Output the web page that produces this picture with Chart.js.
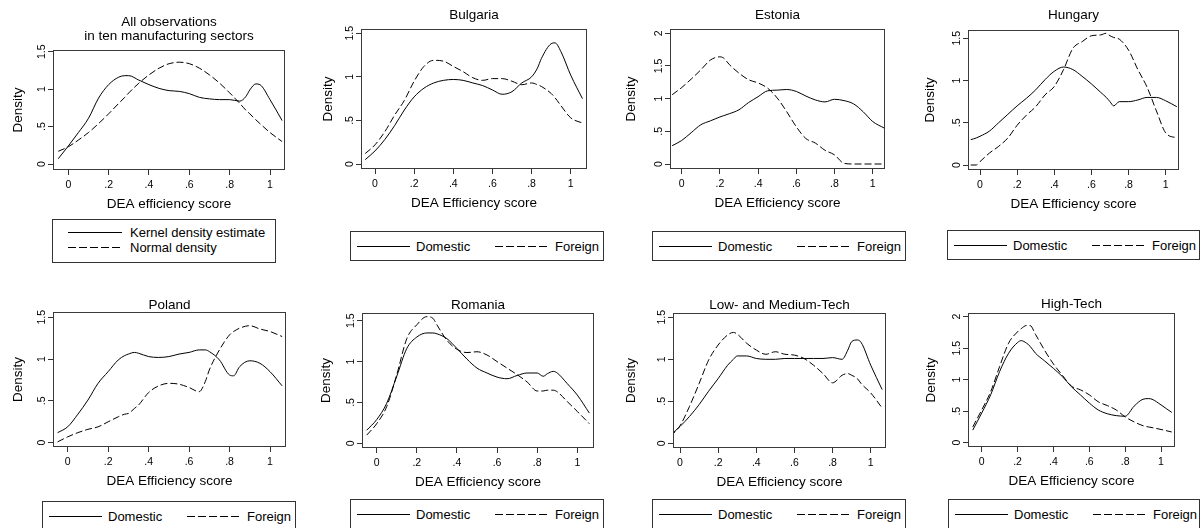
<!DOCTYPE html>
<html>
<head>
<meta charset="utf-8">
<script src="https://cdn.jsdelivr.net/npm/chart.js@4.4.1/dist/chart.umd.min.js"></script>
<style>
html,body{margin:0;padding:0;background:#fff;}
body{width:1202px;height:528px;position:relative;overflow:hidden;font-family:"Liberation Sans",Arial,Helvetica,sans-serif;}
canvas{position:absolute;}
.legend{position:absolute;border:1px solid #333;box-sizing:border-box;background:#fff;font-size:13px;color:#000;}
.ltext{position:absolute;white-space:nowrap;line-height:15px;height:15px;}
.sample{position:absolute;height:1px;background:#000;}
.sample.dash{background:repeating-linear-gradient(to right,#000 0 8px,transparent 8px 11px);}
</style>
</head>
<body>
<script>
// ---------- tick labels ----------
const xTickValues = [0, 0.2, 0.4, 0.6, 0.8, 1];
const xTickLabels = ['0', '.2', '.4', '.6', '.8', '1'];
const yTickValuesA = [0, 0.5, 1, 1.5];
const yTickLabelsA = ['0', '.5', '1', '1.5'];
const yTickValuesB = [0, 0.5, 1, 1.5, 2];
const yTickLabelsB = ['0', '.5', '1', '1.5', '2'];

// ---------- data ----------
const allX = [-0.05,0,0.05,0.1,0.15,0.2,0.25,0.28,0.3,0.35,0.4,0.45,0.5,0.55,0.6,0.65,0.7,0.75,0.8,0.85,0.88,0.9,0.93,0.95,1,1.06];
const allKernel = [0.07,0.24,0.42,0.61,0.88,1.06,1.16,1.18,1.18,1.12,1.06,1.01,0.98,0.97,0.94,0.89,0.87,0.86,0.86,0.84,0.90,0.99,1.07,1.06,0.86,0.58];
const allNormal = [0.17,0.23,0.32,0.42,0.54,0.67,0.81,0.89,0.95,1.08,1.19,1.28,1.34,1.36,1.34,1.28,1.19,1.08,0.95,0.81,0.72,0.67,0.59,0.54,0.42,0.30];

const bulgariaX = [-0.05,0,0.05,0.1,0.15,0.2,0.25,0.3,0.35,0.4,0.45,0.5,0.55,0.6,0.65,0.7,0.75,0.8,0.83,0.85,0.9,0.92,0.95,1,1.06];
const bulgariaDomestic = [0.05,0.15,0.28,0.44,0.62,0.77,0.87,0.93,0.96,0.97,0.96,0.93,0.90,0.85,0.80,0.83,0.93,1.00,1.10,1.21,1.38,1.39,1.29,1.02,0.75];
const bulgariaForeign = [0.12,0.22,0.37,0.56,0.73,0.95,1.12,1.19,1.18,1.12,1.06,0.99,0.96,0.98,0.98,0.95,0.91,0.93,0.91,0.89,0.81,0.76,0.67,0.53,0.47];

const estoniaX = [-0.05,0,0.05,0.1,0.15,0.2,0.22,0.25,0.3,0.35,0.4,0.45,0.5,0.55,0.6,0.65,0.7,0.75,0.8,0.85,0.9,0.95,1,1.06];
const estoniaDomestic = [0.28,0.36,0.48,0.60,0.66,0.72,0.74,0.77,0.83,0.94,1.03,1.12,1.13,1.14,1.11,1.04,0.98,0.95,0.99,0.97,0.92,0.80,0.65,0.55];
const estoniaForeign = [1.06,1.17,1.30,1.44,1.59,1.64,1.62,1.52,1.39,1.29,1.24,1.16,1.01,0.80,0.57,0.39,0.32,0.21,0.14,0.01,0,0,0,0];

const hungaryX = [-0.05,-0.02,0,0.05,0.1,0.15,0.2,0.25,0.3,0.35,0.4,0.45,0.5,0.55,0.6,0.65,0.68,0.7,0.72,0.75,0.8,0.85,0.9,0.95,1,1.06];
const hungaryDomestic = [0.30,0.32,0.34,0.40,0.50,0.60,0.70,0.79,0.89,1.01,1.11,1.16,1.13,1.05,0.96,0.86,0.80,0.75,0.70,0.75,0.75,0.77,0.80,0.80,0.76,0.69];
const hungaryForeign = [0,0,0.04,0.14,0.22,0.32,0.47,0.59,0.69,0.83,0.93,1.13,1.38,1.46,1.53,1.54,1.56,1.53,1.51,1.49,1.36,1.13,0.92,0.64,0.38,0.32];

const polandX = [-0.05,0,0.05,0.1,0.15,0.2,0.25,0.28,0.3,0.33,0.35,0.4,0.45,0.5,0.55,0.6,0.65,0.68,0.7,0.75,0.8,0.82,0.85,0.9,0.95,1,1.06];
const polandDomestic = [0.12,0.19,0.34,0.51,0.71,0.85,0.99,1.04,1.06,1.08,1.07,1.03,1.02,1.03,1.06,1.08,1.11,1.11,1.09,0.99,0.81,0.80,0.91,0.98,0.95,0.85,0.68];
const polandForeign = [0.01,0.07,0.12,0.16,0.19,0.25,0.31,0.34,0.35,0.41,0.45,0.60,0.68,0.71,0.70,0.66,0.61,0.73,0.87,1.11,1.29,1.33,1.37,1.40,1.36,1.33,1.27];

const romaniaX = [-0.05,0,0.05,0.1,0.15,0.2,0.25,0.28,0.3,0.35,0.4,0.45,0.5,0.55,0.6,0.65,0.7,0.75,0.8,0.83,0.85,0.88,0.9,0.95,1,1.06];
const romaniaDomestic = [0.16,0.29,0.49,0.82,1.16,1.30,1.35,1.35,1.34,1.28,1.16,1.03,0.92,0.86,0.81,0.79,0.83,0.86,0.86,0.82,0.85,0.88,0.86,0.73,0.59,0.37];
const romaniaForeign = [0.10,0.24,0.45,0.84,1.28,1.45,1.55,1.53,1.45,1.26,1.15,1.11,1.12,1.08,1.00,0.92,0.84,0.75,0.64,0.64,0.65,0.65,0.63,0.51,0.39,0.24];

const lowMedX = [-0.05,0,0.05,0.1,0.15,0.2,0.25,0.28,0.3,0.35,0.4,0.45,0.5,0.55,0.6,0.65,0.7,0.75,0.8,0.85,0.88,0.9,0.93,0.95,1,1.06];
const lowMedDomestic = [0.10,0.20,0.32,0.46,0.62,0.77,0.93,1.00,1.04,1.04,1.01,1.00,1.00,1.01,1.01,1.01,1.01,1.01,1.02,1.00,1.11,1.21,1.23,1.20,0.93,0.64];
const lowMedForeign = [0.08,0.21,0.44,0.71,0.99,1.17,1.29,1.32,1.30,1.19,1.11,1.06,1.09,1.06,1.05,1.01,0.93,0.83,0.72,0.81,0.83,0.81,0.77,0.71,0.60,0.42];

const highTechX = [-0.05,0,0.05,0.1,0.15,0.2,0.22,0.25,0.27,0.3,0.35,0.4,0.45,0.5,0.55,0.6,0.65,0.7,0.75,0.8,0.85,0.9,0.93,0.95,1,1.06];
const highTechDomestic = [0.20,0.47,0.76,1.13,1.42,1.59,1.62,1.58,1.53,1.42,1.30,1.18,1.05,0.89,0.76,0.63,0.52,0.46,0.43,0.42,0.58,0.69,0.70,0.69,0.60,0.48];
const highTechForeign = [0.25,0.52,0.81,1.21,1.58,1.76,1.81,1.86,1.86,1.72,1.47,1.25,1.07,0.90,0.84,0.76,0.65,0.59,0.52,0.41,0.33,0.27,0.25,0.24,0.21,0.17];

// ---------- panels (layout in page pixels) ----------
const panels = [
  {title:['All observations','in ten manufacturing sectors'], xTitle:'DEA efficiency score', x:allX,
   series:[{label:'Kernel density estimate', data:allKernel, dash:false},{label:'Normal density', data:allNormal, dash:true}],
   yv:yTickValuesA, yl:yTickLabelsA,
   g:{L:53,T:50,R:285,B:170,x0:68.3,x1:270,y0:164,yT:51.7,yTv:1.5,titleY:22.7,densX:18},
   leg:{left:52,top:219,w:224,h:44,vertical:true}},
  {title:'Bulgaria', xTitle:'DEA Efficiency score', x:bulgariaX,
   series:[{label:'Domestic', data:bulgariaDomestic, dash:false},{label:'Foreign', data:bulgariaForeign, dash:true}],
   yv:yTickValuesA, yl:yTickLabelsA,
   g:{L:361,T:29,R:587,B:169,x0:375,x1:570.7,y0:164,yT:33.3,yTv:1.5,titleY:15,densX:328.3},
   leg:{left:350,top:231,w:254,h:30}},
  {title:'Estonia', xTitle:'DEA Efficiency score', x:estoniaX,
   series:[{label:'Domestic', data:estoniaDomestic, dash:false},{label:'Foreign', data:estoniaForeign, dash:true}],
   yv:yTickValuesB, yl:yTickLabelsB,
   g:{L:670,T:29,R:885,B:169,x0:681.7,x1:872.7,y0:164,yT:33.3,yTv:2,titleY:15,densX:631.7},
   leg:{left:652,top:231,w:254,h:30}},
  {title:'Hungary', xTitle:'DEA Efficiency score', x:hungaryX,
   series:[{label:'Domestic', data:hungaryDomestic, dash:false},{label:'Foreign', data:hungaryForeign, dash:true}],
   yv:yTickValuesA, yl:yTickLabelsA,
   g:{L:968,T:30,R:1179,B:170,x0:980,x1:1165.7,y0:165,yT:38.3,yTv:1.5,titleY:15,densX:930},
   leg:{left:947,top:230,w:253,h:30}},
  {title:'Poland', xTitle:'DEA Efficiency score', x:polandX,
   series:[{label:'Domestic', data:polandDomestic, dash:false},{label:'Foreign', data:polandForeign, dash:true}],
   yv:yTickValuesA, yl:yTickLabelsA,
   g:{L:53,T:312,R:286,B:447,x0:67.7,x1:270,y0:442.7,yT:317.3,yTv:1.5,titleY:305,densX:18.3},
   leg:{left:42,top:501,w:254,h:30}},
  {title:'Romania', xTitle:'DEA Efficiency score', x:romaniaX,
   series:[{label:'Domestic', data:romaniaDomestic, dash:false},{label:'Foreign', data:romaniaForeign, dash:true}],
   yv:yTickValuesA, yl:yTickLabelsA,
   g:{L:362,T:313,R:594,B:448,x0:376.7,x1:577.3,y0:443.3,yT:320.7,yTv:1.5,titleY:305,densX:326.7},
   leg:{left:350,top:499,w:254,h:30}},
  {title:'Low- and Medium-Tech', xTitle:'DEA Efficiency score', x:lowMedX,
   series:[{label:'Domestic', data:lowMedDomestic, dash:false},{label:'Foreign', data:lowMedForeign, dash:true}],
   yv:yTickValuesA, yl:yTickLabelsA,
   g:{L:673,T:313,R:886,B:448,x0:680,x1:870.7,y0:443.3,yT:317.3,yTv:1.5,titleY:305,densX:631.7},
   leg:{left:652,top:499,w:254,h:30}},
  {title:'High-Tech', xTitle:'DEA Efficiency score', x:highTechX,
   series:[{label:'Domestic', data:highTechDomestic, dash:false},{label:'Foreign', data:highTechForeign, dash:true}],
   yv:yTickValuesB, yl:yTickLabelsB,
   g:{L:968,T:313,R:1175,B:447,x0:981.7,x1:1161,y0:442.7,yT:316.7,yTv:2,titleY:304,densX:931.7},
   leg:{left:948,top:499,w:252,h:30}}
];

const FONT = '"Liberation Sans", Arial, Helvetica, sans-serif';
Chart.defaults.font.family = FONT;
Chart.defaults.color = '#000';

const WY = 50, HX = 45, TL = 5;
const TITLE_SIZE = 13.5, AXIS_TITLE_SIZE = 13.5, TICK_SIZE = 10.5;
const AXIS_LH = AXIS_TITLE_SIZE * 1.2;

const mctx = document.createElement('canvas').getContext('2d');
mctx.font = TICK_SIZE + 'px ' + FONT;
const widestY = mctx.measureText('1.5').width;

const framePlugin = {
  id: 'frame',
  afterDatasetsDraw(chart) {
    const {ctx, chartArea: a} = chart;
    ctx.save();
    ctx.strokeStyle = '#3a3a3a';
    ctx.lineWidth = 1;
    ctx.strokeRect(Math.round(a.left) + 0.5, Math.round(a.top) + 0.5,
                   Math.round(a.right - a.left) - 1, Math.round(a.bottom - a.top) - 1);
    ctx.restore();
  }
};

function buildPanel(p) {
  const g = p.g;
  const lines = Array.isArray(p.title) ? p.title.length : 1;
  const lh = TITLE_SIZE;
  const top = Math.round(g.titleY - 4 - lh / 2);
  const padTop = g.titleY - lh / 2 - top;
  const padBottom = Math.max(0, g.T - top - padTop - lines * lh);
  const left = g.L - WY;
  const width = WY + (g.R - g.L) + WY;
  const height = (g.B - top) + HX;

  const canvas = document.createElement('canvas');
  canvas.width = width; canvas.height = height;
  canvas.style.left = left + 'px'; canvas.style.top = top + 'px';
  canvas.style.width = width + 'px'; canvas.style.height = height + 'px';
  document.body.appendChild(canvas);

  const xmin = (g.L - g.x0) / (g.x1 - g.x0), xmax = (g.R - g.x0) / (g.x1 - g.x0);
  const per = (g.y0 - g.yT) / g.yTv;
  const ymin = -(g.B - g.y0) / per, ymax = (g.y0 - g.T) / per;

  const datasets = p.series.map(s => ({
    label: s.label,
    data: p.x.map((xv, i) => ({x: xv, y: s.data[i]})),
    borderColor: '#000',
    borderWidth: 1,
    borderDash: s.dash ? [7, 3] : [],
    pointRadius: 0,
    fill: false,
    cubicInterpolationMode: 'monotone'
  }));

  new Chart(canvas, {
    type: 'line',
    data: {datasets},
    plugins: [framePlugin],
    options: {
      responsive: false, animation: false, events: [],
      layout: {padding: 0},
      plugins: {
        legend: {display: false}, tooltip: {enabled: false},
        title: {display: true, text: p.title, color: '#000',
                font: {size: TITLE_SIZE, weight: 'normal', lineHeight: 1},
                padding: {top: padTop, bottom: padBottom}}
      },
      scales: {
        x: {
          type: 'linear', position: 'bottom', min: xmin, max: xmax,
          afterBuildTicks: s => { s.ticks = xTickValues.map(v => ({value: v})); },
          afterFit: s => { s.height = HX; },
          ticks: {font: {size: TICK_SIZE}, color: '#000', padding: 3.8, maxRotation: 0, autoSkip: false,
                  callback: (v, i) => xTickLabels[i]},
          grid: {display: true, drawOnChartArea: false, drawTicks: true, tickLength: TL, color: '#333'},
          border: {display: false},
          title: {display: true, text: p.xTitle, color: '#000', font: {size: AXIS_TITLE_SIZE},
                  padding: {top: 0, bottom: HX - 34.5 - AXIS_LH / 2}}
        },
        y: {
          type: 'linear', position: 'left', min: ymin, max: ymax,
          afterBuildTicks: s => { s.ticks = p.yv.map(v => ({value: v})); },
          afterFit: s => { s.width = WY; },
          ticks: {font: {size: TICK_SIZE}, color: '#000', minRotation: 90, maxRotation: 90,
                  crossAlign: 'center', padding: 10.5 - TL - widestY / 2, autoSkip: false,
                  callback: (v, i) => p.yl[i]},
          grid: {display: true, drawOnChartArea: false, drawTicks: true, tickLength: TL, color: '#333'},
          border: {display: false},
          title: {display: true, text: 'Density', color: '#000', font: {size: AXIS_TITLE_SIZE},
                  padding: {top: g.densX - left - AXIS_LH / 2, bottom: 0}}
        },
        y2: {
          type: 'linear', position: 'right', display: true,
          afterFit: s => { s.width = WY; },
          ticks: {display: false}, grid: {display: false}, border: {display: false}
        }
      }
    }
  });

  // legend box
  const L = p.leg;
  const box = document.createElement('div');
  box.className = 'legend';
  box.style.left = L.left + 'px'; box.style.top = L.top + 'px';
  box.style.width = L.w + 'px'; box.style.height = L.h + 'px';
  const add = (cls, css, text) => {
    const d = document.createElement('div');
    d.className = cls; d.style.cssText = css;
    if (text) d.textContent = text;
    box.appendChild(d);
  };
  if (L.vertical) {
    p.series.forEach((s, i) => {
      const cy = 12 + i * 15;
      add('sample' + (s.dash ? ' dash' : ''), `left:15px;top:${cy}px;width:54px;`);
      add('ltext', `left:77px;top:${cy - 7}px;`, s.label);
    });
  } else {
    const cy = 13.5;
    add('sample', `left:6px;top:${cy}px;width:53px;`);
    add('ltext', `left:65px;top:${cy - 7}px;`, p.series[0].label);
    add('sample dash', `left:144px;top:${cy}px;width:52px;`);
    add('ltext', `left:204px;top:${cy - 7}px;`, p.series[1].label);
  }
  document.body.appendChild(box);
}

panels.forEach(buildPanel);
</script>
</body>
</html>
